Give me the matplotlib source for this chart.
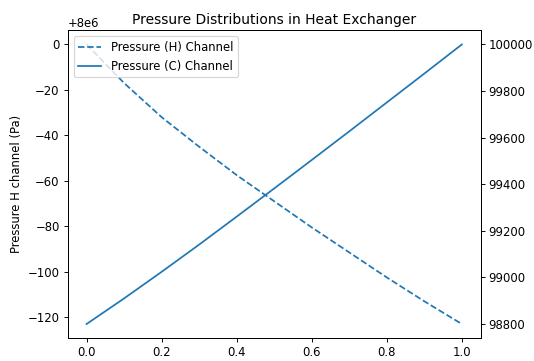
import numpy as np
import matplotlib
matplotlib.use('Agg')
import matplotlib.pyplot as plt

# position along the exchanger (normalised)
x = [0.0, 0.1, 0.2, 0.3, 0.4, 0.5, 0.6, 0.7, 0.8, 0.9, 1.0]

# hot channel pressure, offset from 8e6 Pa
p_hot_rel = [0, -17, -32, -45, -57.5, -69, -80.5, -91.5, -102.5, -113, -123]
p_hot = [8e6 + v for v in p_hot_rel]

# cold channel pressure (Pa)
p_cold = [98800, 98910, 99024, 99141, 99261, 99382, 99504, 99627, 99751, 99875, 100000]

fig, ax1 = plt.subplots(figsize=(6.4, 4.327), dpi=83.44)
fig.subplots_adjust(left=0.127, right=0.900, top=0.9155, bottom=0.0637)

l1, = ax1.plot(x, p_hot, '--', color='C0', label='Pressure (H) Channel')
ax1.set_ylabel('Pressure H channel (Pa)')
ax1.set_title('Pressure Distributions in Heat Exchanger')

ax2 = ax1.twinx()
l2, = ax2.plot(x, p_cold, '-', color='C0', label='Pressure (C) Channel')

ax1.legend(handles=[l1, l2], loc='upper left')

fig.savefig('out.png', dpi=83.44)
